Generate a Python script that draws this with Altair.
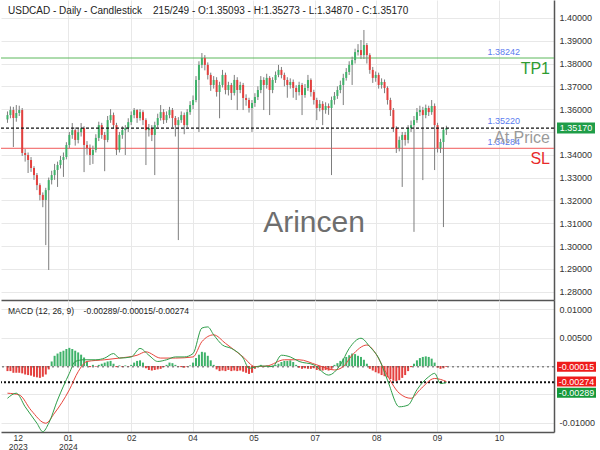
import altair as alt
import pandas as pd

FONT_N = "Liberation Sans Narrow, Liberation Sans, Arial, sans-serif"
FONT = "Liberation Sans, Arial, sans-serif"

# ---------------- price data (daily candles, bar index 0..149) ----------------
first_open = 1.3555
close = [
    1.3574, 1.3596, 1.3561, 1.3583, 1.3596, 1.3408, 1.3399, 1.3377, 1.3342, 1.3311,
    1.3267, 1.3224, 1.3202, 1.3245, 1.3289, 1.3311, 1.3333, 1.3355, 1.3377, 1.3390,
    1.3443, 1.3487, 1.3508, 1.3465, 1.3499, 1.3517, 1.3443, 1.3430, 1.3399, 1.3421,
    1.3474, 1.3530, 1.3487, 1.3465, 1.3552, 1.3574, 1.3530, 1.3421, 1.3487, 1.3508,
    1.3517, 1.3543, 1.3574, 1.3596, 1.3561, 1.3587, 1.3552, 1.3508, 1.3517, 1.3487,
    1.3530, 1.3561, 1.3587, 1.3552, 1.3574, 1.3596, 1.3561, 1.3530, 1.3552, 1.3574,
    1.3530, 1.3587, 1.3618, 1.3640, 1.3728, 1.3794, 1.3824, 1.3794, 1.3750, 1.3706,
    1.3728, 1.3675, 1.3706, 1.3750, 1.3684, 1.3706, 1.3671, 1.3728, 1.3684, 1.3706,
    1.3649, 1.3640, 1.3605, 1.3627, 1.3653, 1.3684, 1.3728, 1.3706, 1.3737, 1.3684,
    1.3728, 1.3750, 1.3772, 1.3750, 1.3728, 1.3706, 1.3719, 1.3693, 1.3675, 1.3706,
    1.3662, 1.3693, 1.3728, 1.3675, 1.3640, 1.3605, 1.3623, 1.3596, 1.3614, 1.3605,
    1.3640, 1.3658, 1.3684, 1.3706, 1.3737, 1.3763, 1.3794, 1.3815, 1.3850, 1.3859,
    1.3837, 1.3881, 1.3837, 1.3772, 1.3737, 1.3750, 1.3706, 1.3719, 1.3693, 1.3640,
    1.3596, 1.3517, 1.3430, 1.3465, 1.3487, 1.3465, 1.3517, 1.3530, 1.3552, 1.3587,
    1.3596, 1.3574, 1.3605, 1.3587, 1.3614, 1.3530, 1.3430, 1.3456, 1.35093, 1.35170,
]
high = [
    1.3590, 1.3612, 1.3610, 1.3618, 1.3615, 1.3605, 1.3425, 1.3410, 1.3390, 1.3350,
    1.3320, 1.3275, 1.3235, 1.3255, 1.3300, 1.3330, 1.3360, 1.3370, 1.3395, 1.3410,
    1.3455, 1.3500, 1.3539, 1.3520, 1.3515, 1.3539, 1.3525, 1.3460, 1.3445, 1.3440,
    1.3490, 1.3545, 1.3540, 1.3500, 1.3570, 1.3600, 1.3585, 1.3540, 1.3500, 1.3525,
    1.3530, 1.3560, 1.3590, 1.3605, 1.3600, 1.3600, 1.3595, 1.3560, 1.3535, 1.3530,
    1.3545, 1.3580, 1.3618, 1.3600, 1.3590, 1.3610, 1.3605, 1.3570, 1.3565, 1.3590,
    1.3585, 1.3600, 1.3635, 1.3660, 1.3745, 1.3810, 1.3846, 1.3837, 1.3805, 1.3760,
    1.3745, 1.3740, 1.3720, 1.3772, 1.3760, 1.3720, 1.3715, 1.3750, 1.3740, 1.3720,
    1.3715, 1.3665, 1.3650, 1.3640, 1.3670, 1.3700, 1.3745, 1.3740, 1.3755, 1.3745,
    1.3740, 1.3765, 1.3794, 1.3785, 1.3760, 1.3740, 1.3735, 1.3730, 1.3705, 1.3720,
    1.3715, 1.3710, 1.3750, 1.3735, 1.3685, 1.3650, 1.3640, 1.3635, 1.3630, 1.3625,
    1.3655, 1.3675, 1.3700, 1.3725, 1.3755, 1.3780, 1.3810, 1.3830, 1.3865, 1.3885,
    1.3903, 1.3947, 1.3890, 1.3845, 1.3785, 1.3765, 1.3760, 1.3735, 1.3730, 1.3700,
    1.3650, 1.3605, 1.3525, 1.3480, 1.3500, 1.3500, 1.3530, 1.3550, 1.3570, 1.3605,
    1.3615, 1.3610, 1.3620, 1.3615, 1.3640, 1.3625, 1.3540, 1.3470, 1.3520, 1.35273,
]
low = [
    1.3540, 1.3560, 1.3434, 1.3545, 1.3570, 1.3395, 1.3370, 1.3320, 1.3325, 1.3290,
    1.3245, 1.3200, 1.3170, 1.3004, 1.2895, 1.3270, 1.3290, 1.3259, 1.3340, 1.3303,
    1.3380, 1.3430, 1.3470, 1.3440, 1.3450, 1.3480, 1.3324, 1.3400, 1.3355, 1.3360,
    1.3410, 1.3460, 1.3470, 1.3328, 1.3455, 1.3540, 1.3515, 1.3399, 1.3410, 1.3470,
    1.3399, 1.3500, 1.3530, 1.3560, 1.3540, 1.3550, 1.3530, 1.3355, 1.3480, 1.3460,
    1.3311, 1.3520, 1.3550, 1.3535, 1.3540, 1.3560, 1.3520, 1.3480, 1.3026, 1.3540,
    1.3490, 1.3520, 1.3575, 1.3600, 1.3630, 1.3500, 1.3780, 1.3770, 1.3730, 1.3680,
    1.3690, 1.3655, 1.3560, 1.3695, 1.3665, 1.3660, 1.3640, 1.3660, 1.3596, 1.3670,
    1.3596, 1.3615, 1.3585, 1.3500, 1.3610, 1.3640, 1.3670, 1.3596, 1.3690, 1.3574,
    1.3670, 1.3715, 1.3740, 1.3735, 1.3700, 1.3650, 1.3690, 1.3650, 1.3640, 1.3660,
    1.3574, 1.3650, 1.3680, 1.3655, 1.3620, 1.3552, 1.3590, 1.3530, 1.3580, 1.3575,
    1.3311, 1.3620, 1.3645, 1.3670, 1.3618, 1.3725, 1.3750, 1.3706, 1.3800, 1.3835,
    1.3820, 1.3820, 1.3800, 1.3755, 1.3715, 1.3720, 1.3690, 1.3690, 1.3670, 1.3620,
    1.3570, 1.3500, 1.3408, 1.3415, 1.3259, 1.3440, 1.3450, 1.3500, 1.3062, 1.3540,
    1.3570, 1.3289, 1.3560, 1.3570, 1.3575, 1.3333, 1.3410, 1.3408, 1.3083, 1.34870,
]

# ---------------- MACD data ----------------
hist = [
    -0.0009, -0.0009, -0.0012, -0.0012, -0.0012, -0.0013, -0.0015, -0.0016, -0.0017, -0.0019,
    -0.0020, -0.0021, -0.0019, -0.0015, -0.0006, 0.0008, 0.0018, 0.0022, 0.0025, 0.0027,
    0.0030, 0.0032, 0.0030, 0.0027, 0.0024, 0.0020, 0.0015, 0.0008, -0.0002, 0.0002,
    -0.0001, 0.0002, 0.0004, 0.0006, 0.0008, 0.0009, 0.0004, -0.0002, 0.0001, -0.0002,
    0.0001, -0.0001, 0.0002, 0.0006, 0.0009, 0.0010, 0.0006, -0.0004, -0.0007, -0.0008,
    -0.0007, -0.0006, -0.0005, -0.0002, 0.0002, 0.0006, 0.0005, 0.0002, -0.0001, -0.0002,
    -0.0003, -0.0001, 0.0001, 0.0006, 0.0014, 0.0020, 0.0025, 0.0024, 0.0018, 0.0010,
    0.0002, -0.0006, -0.0009, -0.0008, -0.0009, -0.0007, -0.0009, -0.0008, -0.0009, -0.0008,
    -0.0010, -0.0012, -0.0014, -0.0012, -0.0005, -0.0002, 0.0002, -0.0002, 0.0001, -0.0002,
    0.0001, 0.0002, 0.0004, 0.0007, 0.0009, 0.0009, 0.0010, 0.0007, 0.0002, -0.0003,
    -0.0005, -0.0004, -0.0005, -0.0005, -0.0004, -0.0007, -0.0008, -0.0008, -0.0007, -0.0008,
    -0.0005, 0.0002, 0.0005, 0.0009, 0.0013, 0.0016, 0.0019, 0.0022, 0.0021, 0.0018,
    0.0016, 0.0011, 0.0004, -0.0005, -0.0008, -0.0011, -0.0013, -0.0016, -0.0018, -0.0020,
    -0.0023, -0.0026, -0.0027, -0.0025, -0.0021, -0.0016, -0.0009, -0.0002, 0.0004, 0.0010,
    0.0014, 0.0016, 0.0017, 0.0016, 0.0013, 0.0006, -0.0003, -0.0005, -0.0004, -0.00015,
]
macd_i = [0, 3, 6, 10, 12, 14, 17, 21, 23, 26, 30, 33, 36, 38, 42, 45, 48, 51, 54, 57,
          60, 63, 66, 68, 70, 73, 76, 80, 82, 86, 90, 93, 96, 99, 104, 109, 113, 116, 120, 123,
          126, 129, 133, 136, 139, 143, 145, 147, 149]
macd_v = [-0.0057, -0.0048, -0.0072, -0.0101, -0.0116, -0.0101, -0.0060, -0.0013, 0.0008, 0.0011,
          0.0011, 0.0014, 0.0022, 0.0014, 0.0016, 0.0031, 0.0019, 0.0008, 0.0011, 0.0016,
          0.0016, 0.0022, 0.0067, 0.0069, 0.0055, 0.0037, 0.0031, 0.0014, -0.0004, 0.0000,
          -0.0001, 0.0019, 0.0016, 0.0008, 0.0002, -0.0016, 0.0002, 0.0031, 0.0049, 0.0034,
          0.0014, -0.0025, -0.0072, -0.0069, -0.0042, -0.0019, -0.0013, -0.0031, -0.00289]
sig_i = [0, 4, 8, 13, 16, 21, 24, 27, 33, 38, 44, 47, 52, 57, 63, 66, 70, 74, 80, 84,
         88, 94, 99, 105, 111, 114, 117, 122, 125, 128, 133, 137, 140, 145, 149]
sig_v = [-0.0048, -0.0051, -0.0078, -0.0101, -0.0083, -0.0042, -0.0010, 0.0008, 0.0011, 0.0014,
         0.0019, 0.0025, 0.0014, 0.0014, 0.0016, 0.0043, 0.0055, 0.0040, 0.0016, -0.0001,
         0.0000, 0.0011, 0.0011, 0.0002, -0.0007, -0.0001, 0.0019, 0.0037, 0.0022, -0.0007,
         -0.0048, -0.0057, -0.0042, -0.0022, -0.00274]

# ---------------- levels / labels ----------------
tp_level = 1.38242
at_level = 1.35220
sl_level = 1.34284
last_close = 1.35170
macd_last, hist_last, sig_last = -0.00289, -0.00015, -0.00274

title_text = ("USDCAD - Daily - Candlestick\u00a0\u00a0\u00a0\u00a0215/249 - O:1.35093 - H:1.35273 - "
              "L:1.34870 - C:1.35170")
macd_text = "MACD (12, 26, 9)\u00a0\u00a0\u00a0\u00a0-0.00289/-0.00015/-0.00274"

tick_pos = [3.5, 20.5, 42.0, 62.83, 83.5, 104.33, 125.17, 145.83, 166.83]
tick_lab = ["12 2023", "01 2024", "02", "04", "05", "07", "08", "09", "10"]
price_ticks = [1.28, 1.29, 1.30, 1.31, 1.32, 1.33, 1.34, 1.35, 1.36, 1.37, 1.38, 1.39, 1.40]
macd_ticks = [-0.01, -0.005, 0.0, 0.005, 0.01]

# ---------------- tables ----------------
n = len(close)
opens = [first_open] + close[:-1]
candles = pd.DataFrame({"i": list(range(n)), "o": opens, "h": high, "l": low, "c": close})
candles["dir"] = ["up" if c >= o else "down" for o, c in zip(opens, close)]
hist_df = pd.DataFrame({"i": list(range(n)), "h": hist})
hist_df["sgn"] = ["pos" if v >= 0 else "neg" for v in hist]
macd_df = pd.DataFrame({"i": macd_i, "v": macd_v})
sig_df = pd.DataFrame({"i": sig_i, "v": sig_v})

W, H_MAIN, H_MACD = 553, 300, 132
GRID = "#e8e8e8"
AXC = "#555555"

X_SCALE = alt.Scale(domain=[-0.5, 183.83], nice=False, zero=False)
grid_col = {"condition": {"test": "datum.value < 5", "value": "transparent"}, "value": GRID}
lab_expr = ("split([" + ",".join("'%s'" % t for t in tick_lab) + "][indexof([" +
            ",".join(str(p) for p in tick_pos) + "], datum.value)], ' ')")

ax_x_main = alt.Axis(values=tick_pos, labels=False, ticks=False, grid=True, gridColor=grid_col,
                     domainColor=AXC, domainWidth=1.5, title=None)
ax_x_macd = alt.Axis(values=tick_pos, labelExpr=lab_expr, ticks=False, grid=True, gridColor=grid_col,
                     domainColor=AXC, domainWidth=1.5, title=None, labelFont=FONT, labelFontSize=8.5,
                     labelColor="#333333", labelPadding=1, labelLineHeight=9, labelAngle=0,
                     labelBaseline="top")


def xm(field="i:Q"):
    return alt.X(field, scale=X_SCALE, axis=ax_x_main)


def xd(field="i:Q"):
    return alt.X(field, scale=X_SCALE, axis=ax_x_macd)


Y_MAIN = alt.Scale(domain=[1.27633, 1.40785], nice=False, zero=False)
ax_y_main = alt.Axis(orient="right", values=price_ticks, ticks=False, grid=True, gridColor=GRID,
                     domainColor=AXC, domainWidth=1.5, title=None, labelFont=FONT, labelFontSize=9,
                     labelColor="#333333", labelPadding=5,
                     labelExpr="abs(datum.value - 1.35) < 0.0001 ? '' : format(datum.value, '.5f')")


def ym(field):
    return alt.Y(field, scale=Y_MAIN, axis=ax_y_main)


Y_MACD = alt.Scale(domain=[-0.01165, 0.01165], nice=False, zero=False)
ax_y_macd = alt.Axis(orient="right", values=macd_ticks, ticks=False, grid=True, gridColor=GRID,
                     domainColor=AXC, domainWidth=1.5, title=None, labelFont=FONT, labelFontSize=9,
                     labelColor="#333333", labelPadding=5,
                     labelExpr="(datum.value > 0.001 || datum.value < -0.0075) ? "
                               "replace(format(datum.value, '.5f'), '\u2212', '-') : ''")


def yd(field):
    return alt.Y(field, scale=Y_MACD, axis=ax_y_macd)


# ---------------- main panel ----------------
wm = alt.Chart(pd.DataFrame({"t": ["Arincen"]})).mark_text(
    font=FONT, fontSize=30, color="#6e6e6e", align="center",
    baseline="middle").encode(x=alt.value(313), y=alt.value(223), text="t:N")

lvl_df = pd.DataFrame({"v": [tp_level, sl_level], "col": ["#5cb85c", "#f05a5a"]})
lvl = alt.Chart(lvl_df).mark_rule(strokeWidth=1).encode(
    y=ym("v:Q"), color=alt.Color("col:N", scale=None))

wick = alt.Chart(candles).mark_rule(color="#7d7d7d", strokeWidth=1).encode(
    x=xm(), y=ym("l:Q"), y2="h:Q")
body = alt.Chart(candles).mark_bar(size=2).encode(
    x=xm(), y=ym("o:Q"), y2="c:Q",
    color=alt.Color("dir:N", scale=alt.Scale(domain=["up", "down"], range=["#3fb26a", "#e4403e"]),
                    legend=None))

dot = alt.Chart(pd.DataFrame({"v": [last_close]})).mark_rule(
    color="#111111", strokeWidth=1.3, strokeDash=[3, 2]).encode(y=ym("v:Q"))

blue_df = pd.DataFrame({"v": [tp_level, at_level, sl_level]})
blue_df["t"] = [f"{v:.5f}" for v in blue_df["v"]]
blue = alt.Chart(blue_df).mark_text(font=FONT, fontSize=9, color="#5b7cf0", align="right",
                                    baseline="bottom", dy=-1).encode(
    x=alt.value(519), y=ym("v:Q"), text="t:N")

big_df = pd.DataFrame({"v": [tp_level, at_level, sl_level], "t": ["TP1", "At Price", "SL"],
                       "col": ["#2e9b32", "#9a9a9a", "#e82a2a"]})
big = alt.Chart(big_df).mark_text(font=FONT_N, fontSize=16, align="right", baseline="middle",
                                  dy=11).encode(
    x=alt.value(549), y=ym("v:Q"), text="t:N", color=alt.Color("col:N", scale=None))

ttl = alt.Chart(pd.DataFrame({"t": [title_text]})).mark_text(
    font=FONT_N, fontSize=10, color="#222222", align="left", baseline="middle").encode(
    x=alt.value(7), y=alt.value(11), text="t:N")

tag_df = pd.DataFrame({"v": [last_close], "t": [f"{last_close:.5f}"]})
tag_box = alt.Chart(tag_df).mark_rect(color="#1f9d48", yOffset=-5.5, y2Offset=5.5).encode(
    x=alt.value(556), x2=alt.value(594), y=ym("v:Q"), y2="v:Q")
tag_txt = alt.Chart(tag_df).mark_text(font=FONT, fontSize=9, color="white", align="center",
                                      baseline="middle").encode(
    x=alt.value(575), y=ym("v:Q"), text="t:N")

main = alt.layer(wm, lvl, wick, body, dot, blue, big, ttl, tag_box, tag_txt).properties(
    width=W, height=H_MAIN)

# ---------------- MACD panel ----------------
hbar = alt.Chart(hist_df).mark_bar(size=2).encode(
    x=xd(), y=yd("h:Q"), y2=alt.datum(0),
    color=alt.Color("sgn:N", scale=alt.Scale(domain=["pos", "neg"], range=["#2ee82e", "#ee1414"]),
                    legend=None))

dl1 = alt.Chart(pd.DataFrame({"v": [hist_last]})).mark_rule(
    color="#555555", strokeWidth=1, strokeDash=[2, 3]).encode(y=yd("v:Q"))
dl2 = alt.Chart(pd.DataFrame({"v": [macd_last]})).mark_rule(
    color="#111111", strokeWidth=2, strokeDash=[2, 2]).encode(y=yd("v:Q"))

l_macd = alt.Chart(macd_df).mark_line(color="#2f9e4a", strokeWidth=1, interpolate="monotone").encode(
    x=xd(), y=yd("v:Q"))
l_sig = alt.Chart(sig_df).mark_line(color="#e8453c", strokeWidth=1, interpolate="monotone").encode(
    x=xd(), y=yd("v:Q"))

mtxt = alt.Chart(pd.DataFrame({"t": [macd_text]})).mark_text(
    font=FONT_N, fontSize=8.5, color="#222222", align="left", baseline="middle").encode(
    x=alt.value(7), y=alt.value(11), text="t:N")


def mtag(v, col, off):
    d = pd.DataFrame({"v": [v], "t": [f"{v:.5f}"]})
    box = alt.Chart(d).mark_rect(color=col, yOffset=-5 + off, y2Offset=5 + off).encode(
        x=alt.value(556), x2=alt.value(595), y=yd("v:Q"), y2="v:Q")
    txt = alt.Chart(d).mark_text(font=FONT, fontSize=9, color="white", align="center",
                                 baseline="middle", dy=off).encode(
        x=alt.value(575.5), y=yd("v:Q"), text="t:N")
    return [box, txt]


tags = mtag(hist_last, "#ee1c1c", 0) + mtag(sig_last, "#ee1c1c", 0) + mtag(macd_last, "#15993a", 10.5)

macd = alt.layer(hbar, dl1, dl2, l_sig, l_macd, mtxt, *tags).properties(width=W, height=H_MACD)

chart = alt.vconcat(main, macd, spacing=0).properties(padding=0).configure(
    background="white").configure_view(strokeWidth=0)

chart.save("out.html", embed_options={"renderer": "svg", "actions": False})
